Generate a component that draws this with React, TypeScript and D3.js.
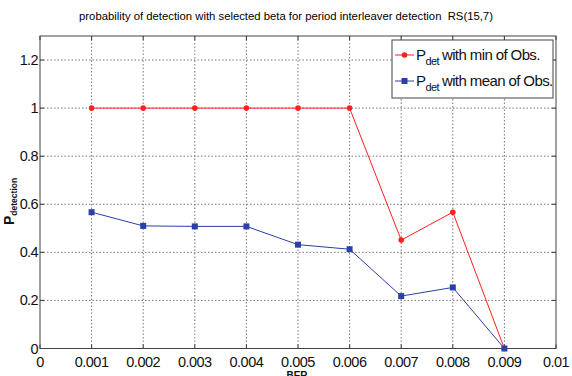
import React from "react";
import * as d3 from "d3";

const berValues = [0.001, 0.002, 0.003, 0.004, 0.005, 0.006, 0.007, 0.008, 0.009];
const pdetMin = [1, 1, 1, 1, 1, 1, 0.451, 0.567, 0];
const pdetMean = [0.567, 0.51, 0.508, 0.508, 0.432, 0.413, 0.218, 0.254, 0];
const xTicks = [0, 0.001, 0.002, 0.003, 0.004, 0.005, 0.006, 0.007, 0.008, 0.009, 0.01];
const yTicks = [0, 0.2, 0.4, 0.6, 0.8, 1, 1.2];
const titleText = "probability of detection with selected beta for period interleaver detection  RS(15,7)";

export default function App() {
  const W = 572, H = 376;
  const left = 40, right = 556, top = 36, bottom = 348.5;
  const x = d3.scaleLinear().domain([0, 0.01]).range([left, right]);
  const y = d3.scaleLinear().domain([0, 1.3]).range([bottom, top]);
  const line = d3.line<number>().x((_, i) => x(berValues[i])).y((d) => y(d));
  const font = "'Liberation Sans', Arial, sans-serif";
  const red = "#ff2020";
  const blue = "#2a3fa8";
  const fmtY = (v: number) => (v === 0 || v === 1 ? String(v) : v.toFixed(1));
  const fmtX = (v: number) => (v === 0 ? "0" : String(+v.toFixed(3)));
  return (
    <svg width={W} height={H} style={{ position: "absolute", left: 0, top: 0, background: "#fff" }} fontFamily={font}>
      <text x={286} y={20} textAnchor="middle" fontSize={11.3} fill="#000" style={{ whiteSpace: "pre" }}>{titleText}</text>
      {/* grid */}
      {xTicks.slice(1, -1).map((t) => (
        <line key={"gx" + t} x1={x(t)} x2={x(t)} y1={top} y2={bottom} stroke="#555" strokeWidth={0.8} strokeDasharray="1.5,2" />
      ))}
      {yTicks.slice(1).map((t) => (
        <line key={"gy" + t} x1={left} x2={right} y1={y(t)} y2={y(t)} stroke="#555" strokeWidth={0.8} strokeDasharray="1.5,2" />
      ))}
      {/* ticks */}
      {xTicks.map((t) => (
        <g key={"tx" + t}>
          <line x1={x(t)} x2={x(t)} y1={bottom} y2={bottom - 4} stroke="#333" />
          <line x1={x(t)} x2={x(t)} y1={top} y2={top + 4} stroke="#333" />
          <text x={x(t)} y={bottom + 18} textAnchor="middle" fontSize={14.5} letterSpacing={-0.5} fill="#111">{fmtX(t)}</text>
        </g>
      ))}
      {yTicks.map((t) => (
        <g key={"ty" + t}>
          <line x1={left} x2={left + 4} y1={y(t)} y2={y(t)} stroke="#333" />
          <line x1={right} x2={right - 4} y1={y(t)} y2={y(t)} stroke="#333" />
          <text x={left - 2} y={y(t) + 5} textAnchor="end" fontSize={14.5} letterSpacing={-0.6} fill="#111">{fmtY(t)}</text>
        </g>
      ))}
      <rect x={left} y={top} width={right - left} height={bottom - top} fill="none" stroke="#444" strokeWidth={1} />
      {/* series */}
      <path d={line(pdetMin) || ""} fill="none" stroke={red} strokeWidth={1} />
      <path d={line(pdetMean) || ""} fill="none" stroke={blue} strokeWidth={1} />
      {pdetMin.map((v, i) => (
        <circle key={"r" + i} cx={x(berValues[i])} cy={y(v)} r={2.8} fill={red} />
      ))}
      {pdetMean.map((v, i) => (
        <rect key={"b" + i} x={x(berValues[i]) - 3} y={y(v) - 3} width={6} height={6} fill={blue} />
      ))}
      {/* legend */}
      <g>
        <rect x={392} y={40} width={161} height={58} fill="#fff" stroke="#444" strokeWidth={1} />
        <line x1={395} x2={414} y1={55} y2={55} stroke={red} />
        <circle cx={404.5} cy={55} r={2.8} fill={red} />
        <text x={416} y={60} fontSize={15} letterSpacing={-0.6} fill="#111">P<tspan fontSize={11} dy={5}>det</tspan><tspan dy={-5} dx={3}>with min of Obs.</tspan></text>
        <line x1={395} x2={414} y1={81} y2={81} stroke={blue} />
        <rect x={401.5} y={78} width={6} height={6} fill={blue} />
        <text x={416} y={86} fontSize={15} letterSpacing={-0.6} fill="#111">P<tspan fontSize={11} dy={5}>det</tspan><tspan dy={-5} dx={3}>with mean of Obs.</tspan></text>
      </g>
      {/* axis labels */}
      <text x={297} y={378.5} textAnchor="middle" fontSize={10} fontWeight="bold" fill="#111">BER</text>
      <text transform={`translate(13.5, 225) rotate(-90)`} textAnchor="start" fontSize={14} fontWeight="bold" fill="#111">P<tspan fontSize={8.5} dy={3.5}>detection</tspan></text>
    </svg>
  );
}
